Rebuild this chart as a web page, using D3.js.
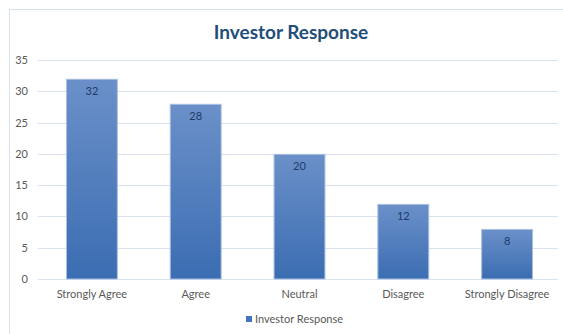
<!DOCTYPE html>
<html>
<head>
<meta charset="utf-8">
<script src="https://cdn.jsdelivr.net/npm/d3@7"></script>
<style>
  body { margin: 0; background: #fff; }
  text { font-family: Lato, "Open Sans", sans-serif; }
</style>
</head>
<body>
<div class="canvas"></div>
<script>
const categories = ['Strongly Agree', 'Agree', 'Neutral', 'Disagree', 'Strongly Disagree'];
const values = [32, 28, 20, 12, 8];
const yTicks = [0, 5, 10, 15, 20, 25, 30, 35];
const seriesName = 'Investor Response';
const title = 'Investor Response';

const dims = { width: 563, height: 334, left: 38, right: 558, top: 60, bottom: 279 };

const svg = d3.select('.canvas')
    .append('svg')
    .attr('width', dims.width)
    .attr('height', dims.height);

// chart frame
svg.append('rect')
    .attr('x', 9.5).attr('y', 9.5)
    .attr('width', 560).attr('height', 340)
    .attr('fill', 'none')
    .attr('stroke', '#d9e1ee');

const defs = svg.append('defs');
const grad = defs.append('linearGradient')
    .attr('id', 'barGrad')
    .attr('x1', 0).attr('y1', 0).attr('x2', 0).attr('y2', 1);
grad.append('stop').attr('offset', '0%').attr('stop-color', '#6b90c9');
grad.append('stop').attr('offset', '100%').attr('stop-color', '#3b6db2');

const x = d3.scaleBand()
    .domain(categories)
    .range([40, 559])
    .paddingInner(0.5)
    .paddingOuter(0.25);

const y = d3.scaleLinear()
    .domain([0, 35])
    .range([dims.bottom, dims.top]);

// gridlines
svg.append('g')
    .selectAll('line')
    .data(yTicks)
    .enter()
    .append('line')
        .attr('x1', dims.left)
        .attr('x2', dims.right)
        .attr('y1', d => Math.round(y(d)) + 0.5)
        .attr('y2', d => Math.round(y(d)) + 0.5)
        .attr('stroke', '#d9e2f0');

// y tick labels
svg.append('g')
    .selectAll('text')
    .data(yTicks)
    .enter()
    .append('text')
        .attr('x', 28)
        .attr('y', d => y(d) + 4)
        .attr('text-anchor', 'end')
        .attr('font-size', 11)
        .attr('fill', '#595959')
        .text(d => d);

// bars
svg.append('g')
    .selectAll('rect')
    .data(values)
    .enter()
    .append('rect')
        .attr('x', (d, i) => x(categories[i]) + 0.5)
        .attr('y', d => y(d) + 0.5)
        .attr('width', x.bandwidth() - 1)
        .attr('height', d => y(0) - y(d) - 0.5)
        .attr('fill', 'url(#barGrad)')
        .attr('stroke', '#a9bfe0')
        .attr('stroke-width', 1);

// data labels
svg.append('g')
    .selectAll('text')
    .data(values)
    .enter()
    .append('text')
        .attr('x', (d, i) => x(categories[i]) + x.bandwidth() / 2)
        .attr('y', d => y(d) + 16)
        .attr('text-anchor', 'middle')
        .attr('font-size', 11)
        .attr('fill', '#1f3a68')
        .text(d => d);

// x labels
svg.append('g')
    .selectAll('text')
    .data(categories)
    .enter()
    .append('text')
        .attr('x', d => x(d) + x.bandwidth() / 2)
        .attr('y', 298)
        .attr('text-anchor', 'middle')
        .attr('font-size', 11)
        .attr('fill', '#595959')
        .text(d => d);

// title
svg.append('text')
    .attr('x', 291)
    .attr('y', 39)
    .attr('text-anchor', 'middle')
    .attr('font-size', 19)
    .attr('font-weight', 'bold')
    .attr('fill', '#1f4e79')
    .text(title);

// legend
const legend = svg.append('g');
legend.append('rect')
    .attr('x', 246).attr('y', 316)
    .attr('width', 6).attr('height', 6)
    .attr('fill', '#4472c4');
legend.append('text')
    .attr('x', 255)
    .attr('y', 323)
    .attr('font-size', 11)
    .attr('fill', '#595959')
    .text(seriesName);
</script>
</body>
</html>
